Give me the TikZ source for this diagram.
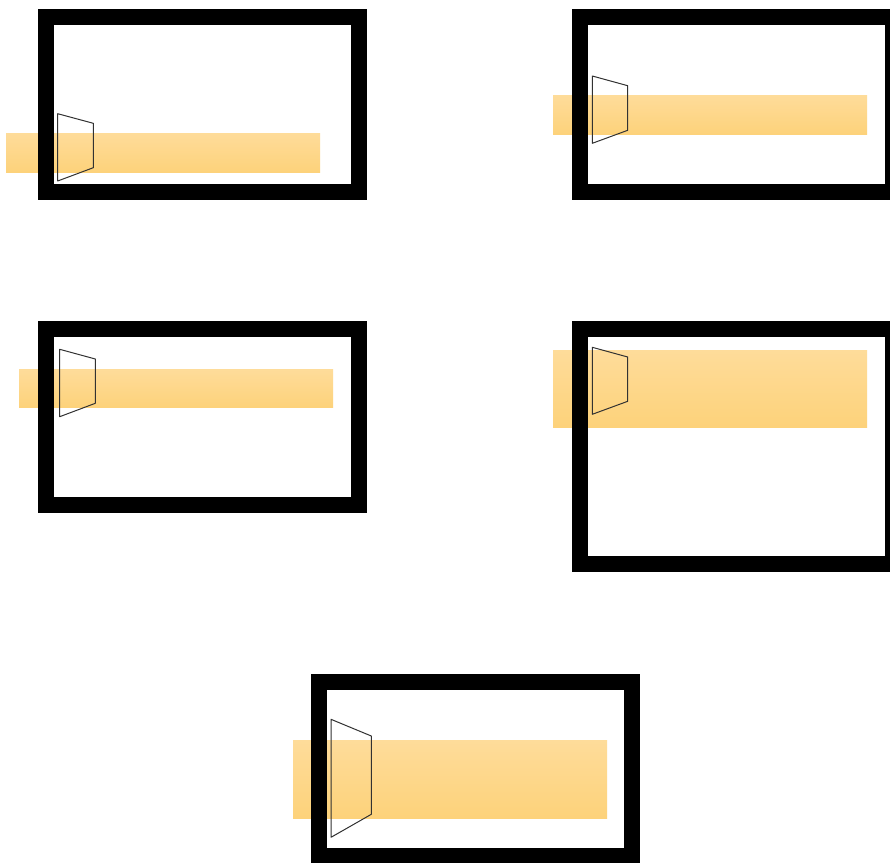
\documentclass[tikz,border=0pt]{standalone}
\definecolor{bandtop}{RGB}{254,220,154}
\definecolor{bandbot}{RGB}{253,210,122}
\definecolor{trapline}{RGB}{50,50,50}
\tikzset{
  band/.style={top color=bandtop, bottom color=bandbot, draw=none},
  frame/.style={draw=black, line width=16pt, fill=white},
  trap/.style={draw=trapline, line width=1pt, line join=round}
}
\begin{document}
\begin{tikzpicture}[x=1pt,y=-1pt]
\useasboundingbox (0,0) rectangle (890,862);
\clip (0,0) rectangle (890,862);
% panel 1
\draw[frame] (46,16.7) rectangle (358.7,192.3);
\fill[band] (6,133) rectangle (320,172.7);
\draw[frame,fill=none] (46,16.7) rectangle (358.7,192.3);
\draw[trap] (57.7,113.7) -- (93.3,123.3) -- (93.3,167.7) -- (57.7,181) -- cycle;
% panel 2
\draw[frame] (580.3,16.7) rectangle (893.3,192.3);
\fill[band] (553,95) rectangle (867,134.7);
\draw[frame,fill=none] (580.3,16.7) rectangle (893.3,192.3);
\draw[trap] (592.3,76) -- (627.7,85.7) -- (627.7,130.3) -- (592.3,143.3) -- cycle;
% panel 3
\draw[frame] (46,329.3) rectangle (358.7,505.3);
\fill[band] (19,369) rectangle (333,407.7);
\draw[frame,fill=none] (46,329.3) rectangle (358.7,505.3);
\draw[trap] (59.7,349.3) -- (95.3,359) -- (95.3,403.3) -- (59.7,416.7) -- cycle;
% panel 4
\draw[frame] (580.3,329.3) rectangle (893.3,563.8);
\fill[band] (553,350) rectangle (867,427.7);
\draw[frame,fill=none] (580.3,329.3) rectangle (893.3,563.8);
\draw[trap] (592.3,347.3) -- (627.7,357) -- (627.7,401.3) -- (592.3,414.3) -- cycle;
% panel 5
\draw[frame] (319.3,682.3) rectangle (631.8,855.7);
\fill[band] (293,740) rectangle (607,818.7);
\draw[frame,fill=none] (319.3,682.3) rectangle (631.8,855.7);
\draw[trap] (331,719.3) -- (371.3,736) -- (371.3,814.3) -- (331,837.3) -- cycle;
\end{tikzpicture}
\end{document}
